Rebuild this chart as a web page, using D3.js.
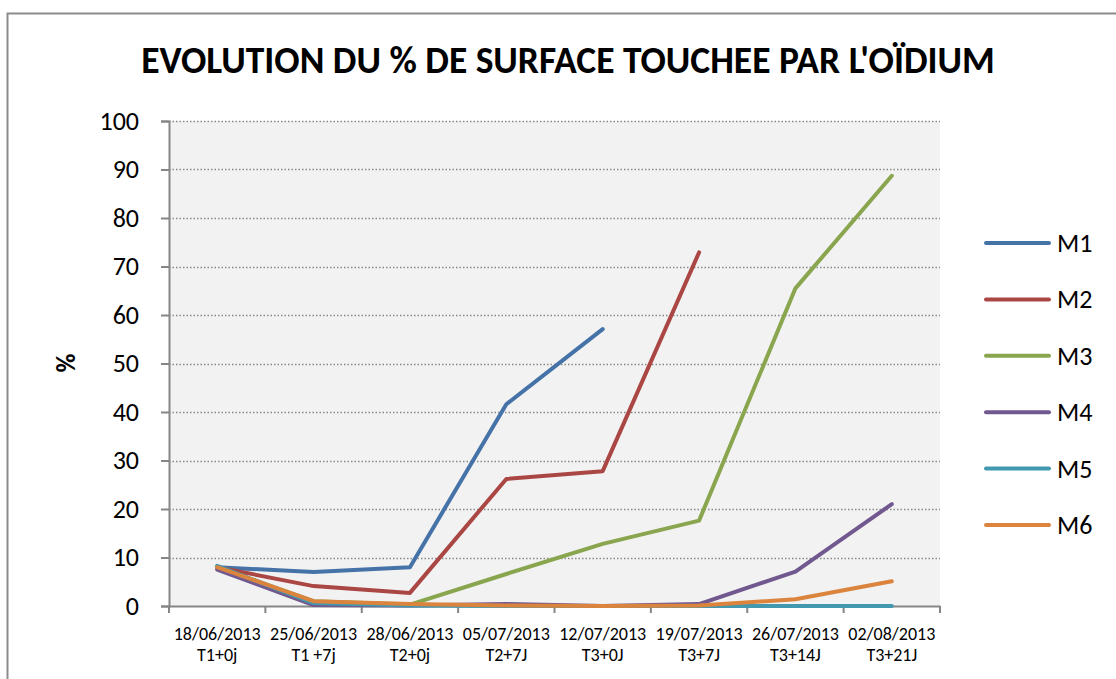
<!DOCTYPE html>
<html>
<head>
<meta charset="utf-8">
<script src="https://cdn.jsdelivr.net/npm/d3@7"></script>
<style>
  body { margin: 0; background: #fff; }
  svg { display: block; }
  svg text { font-family: Carlito, Lato, "Open Sans", sans-serif; }
</style>
</head>
<body>
<div id="chart"></div>
<script>
var dates = ["18/06/2013", "25/06/2013", "28/06/2013", "05/07/2013", "12/07/2013", "19/07/2013", "26/07/2013", "02/08/2013"];
var steps = ["T1+0j", "T1 +7j", "T2+0j", "T2+7J", "T3+0J", "T3+7J", "T3+14J", "T3+21J"];
var yTicks = [0, 10, 20, 30, 40, 50, 60, 70, 80, 90, 100];

var m1 = [8.0, 7.0, 8.0, 41.6, 57.1, null, null, null];
var m2 = [8.0, 4.1, 2.7, 26.2, 27.8, 72.9, null, null];
var m3 = [8.0, 1.0, 0.3, 6.6, 12.8, 17.6, 65.5, 88.7];
var m4 = [7.5, 0.2, 0.1, 0.4, 0.0, 0.4, 7.1, 21.0];
var m5 = [8.3, 0.6, 0.1, 0.0, 0.0, 0.0, 0.0, 0.0];
var m6 = [8.0, 1.0, 0.4, 0.1, 0.0, 0.1, 1.4, 5.1];

var seriesNames = ["M1", "M2", "M3", "M4", "M5", "M6"];
var seriesValues = [m1, m2, m3, m4, m5, m6];
var colors = ["#4572a7", "#aa4643", "#89a54e", "#71588f", "#4198af", "#db843d"];

var W = 1116, H = 679;
var margin = {left: 169, right: 176, top: 121, bottom: 73};
var width = W - margin.left - margin.right,
    height = H - margin.top - margin.bottom;

var svg = d3.select("#chart").append("svg")
    .attr("width", W)
    .attr("height", H);

// outer frame
svg.append("rect")
    .attr("x", 7.5).attr("y", 13.5)
    .attr("width", 1200).attr("height", 1000)
    .attr("fill", "#fff")
    .attr("stroke", "#8c8c8c")
    .attr("stroke-width", 2);

svg.append("text")
    .attr("x", 568)
    .attr("y", 73)
    .attr("text-anchor", "middle")
    .style("font-size", "37.5px")
    .style("font-weight", "bold")
    .text("EVOLUTION DU % DE SURFACE TOUCHEE PAR L'OÏDIUM");

var g = svg.append("g")
    .attr("transform", "translate(" + margin.left + "," + margin.top + ")");

var x = d3.scaleBand()
    .domain(dates)
    .range([0, width]);
var y = d3.scaleLinear()
    .domain([0, 100])
    .range([height, 0]);

g.append("rect")
    .attr("width", width)
    .attr("height", height)
    .attr("fill", "#f2f2f2");

// gridlines
g.selectAll(".grid")
    .data(yTicks.filter(function (d) { return d > 0; }))
    .enter().append("line")
    .attr("x1", 0).attr("x2", width)
    .attr("y1", function (d) { return Math.round(y(d)) + 0.5; })
    .attr("y2", function (d) { return Math.round(y(d)) + 0.5; })
    .attr("stroke", "#8a8a8a")
    .attr("stroke-width", 1.5)
    .attr("stroke-dasharray", "1.5,2");

// y axis
var yAxis = g.append("g")
    .call(d3.axisLeft(y).tickValues(yTicks).tickSize(8).tickPadding(22));
yAxis.attr("font-family", null);
yAxis.selectAll("text").style("font-size", "26px").attr("fill", "#000");
yAxis.selectAll("line,path").attr("stroke", "#868686").attr("stroke-width", 2);

// x axis
var xAxis = g.append("g")
    .attr("transform", "translate(0," + height + ")")
    .call(d3.axisBottom(x).tickValues([]).tickSizeOuter(0));
xAxis.select("path").attr("stroke", "#868686").attr("stroke-width", 2);
var bounds = dates.map(function (d) { return x(d); }).concat([width]);
xAxis.selectAll(".tk")
    .data(bounds)
    .enter().append("line")
    .attr("x1", function (d) { return d; })
    .attr("x2", function (d) { return d; })
    .attr("y1", 0).attr("y2", 7)
    .attr("stroke", "#868686")
    .attr("stroke-width", 2);

var lbl = g.append("g")
    .attr("transform", "translate(0," + height + ")")
    .selectAll("text")
    .data(dates)
    .enter().append("text")
    .attr("text-anchor", "middle")
    .attr("x", function (d) { return x(d) + x.bandwidth() / 2; })
    .style("font-size", "18px");
lbl.append("tspan")
    .attr("x", function (d) { return x(d) + x.bandwidth() / 2; })
    .attr("y", 34)
    .text(function (d) { return d; });
lbl.append("tspan")
    .attr("x", function (d) { return x(d) + x.bandwidth() / 2; })
    .attr("y", 55)
    .text(function (d, i) { return steps[i]; });

svg.append("text")
    .attr("transform", "translate(75,363) rotate(-90)")
    .attr("text-anchor", "middle")
    .style("font-size", "26px")
    .style("font-weight", "bold")
    .text("%");

var line = d3.line()
    .defined(function (d) { return d != null; })
    .x(function (d, i) { return x(dates[i]) + x.bandwidth() / 2; })
    .y(function (d) { return y(d); });

g.selectAll(".series")
    .data(seriesValues)
    .enter().append("path")
    .attr("d", line)
    .attr("fill", "none")
    .attr("stroke", function (d, i) { return colors[i]; })
    .attr("stroke-width", 4)
    .attr("stroke-linejoin", "round")
    .attr("stroke-linecap", "round");

// legend
var legend = svg.append("g")
    .selectAll("g")
    .data(seriesNames)
    .enter().append("g")
    .attr("transform", function (d, i) { return "translate(986," + (243 + i * 56.4) + ")"; });
legend.append("line")
    .attr("x1", 0).attr("x2", 63)
    .attr("stroke", function (d, i) { return colors[i]; })
    .attr("stroke-width", 4)
    .attr("stroke-linecap", "round");
legend.append("text")
    .attr("x", 71)
    .attr("y", 9)
    .style("font-size", "26px")
    .text(function (d) { return d; });
</script>
</body>
</html>
